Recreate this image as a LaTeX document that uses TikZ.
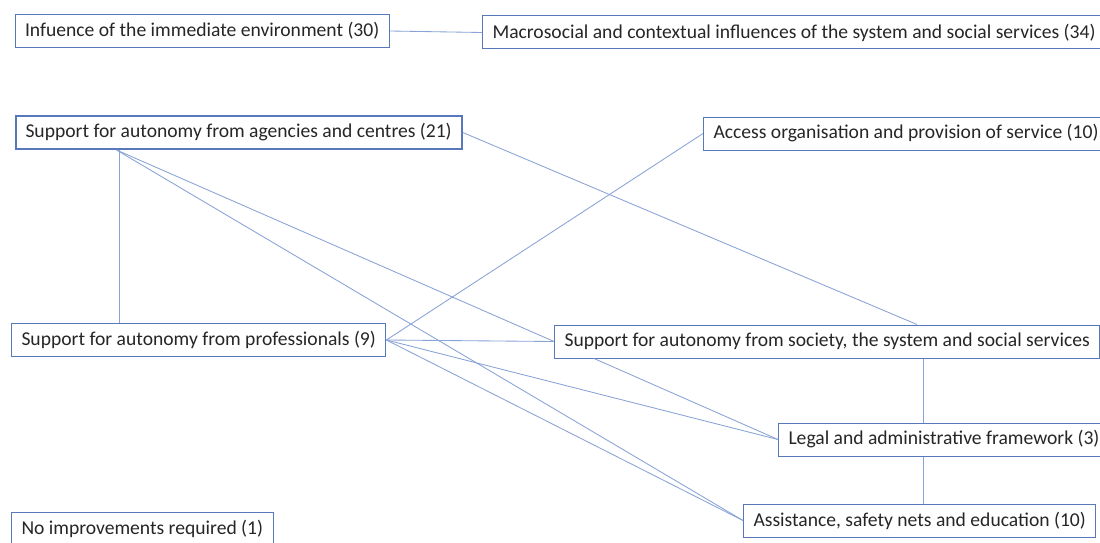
\documentclass[tikz,border=0pt]{standalone}
\usepackage{fontspec}
\setmainfont{Carlito}
\definecolor{boxblue}{RGB}{88,120,188}
\definecolor{lineblue}{RGB}{136,163,215}
\newcommand{\overedge}{\hspace{20pt}}
\tikzset{
  cat/.style={draw=boxblue, line width=1pt, fill=white, anchor=west, minimum height=33pt,
    inner xsep=10pt, inner ysep=0pt, font=\fontsize{19.6}{23}\selectfont, text=black!85},
  catthick/.style={cat, line width=2pt},
  link/.style={draw=lineblue, line width=0.85pt}
}
\begin{document}
\begin{tikzpicture}[x=1pt,y=-1pt]
\useasboundingbox (0,0) rectangle (1100,543);
\fill[white] (0,0) rectangle (1100,543);
\clip (0,0) rectangle (1100,543);
% nodes
\node[cat] (inf) at (14.5,31) {Infuence of the immediate environment (30)};
\node[cat] (mac) at (482,32.5) {Macrosocial and contextual influences of the system and social services (34)\overedge};
\node[catthick] (agc) at (14.5,132.5) {Support for autonomy from agencies and centres (21)};
\node[cat] (acc) at (703,133.5) {Access organisation and provision of service (10)\overedge};
\node[cat] (pro) at (11,340) {Support for autonomy from professionals (9)};
\node[cat] (soc) at (554,341.5) {Support for autonomy from society, the system and social services\overedge};
\node[cat] (leg) at (778,439.5) {Legal and administrative framework (3)\overedge};
\node[cat] (ass) at (743,520.5) {Assistance, safety nets and education (10)\overedge};
\node[cat] (noi) at (11,528.5) {No improvements required (1)};
% connectors
\draw[link] (inf.east) -- (mac.west);
\coordinate (agcb) at ([xshift=105pt]agc.south west);
\draw[link] (agcb) -- (agcb |- pro.north);
\draw[link] ([xshift=102pt]agc.south west) -- (soc.west);
\draw[link] ([xshift=102pt]agc.south west) -- (ass.west);
\draw[link] (agc.east) -- ([xshift=363pt]soc.north west);
\draw[link] (acc.west) -- (pro.east);
\draw[link] (pro.east) -- (soc.west);
\draw[link] (pro.east) -- (leg.west);
\draw[link] (pro.east) -- (ass.west);
\draw[link] ([xshift=40pt]soc.south west) -- (leg.west);
\coordinate (socb) at ([xshift=369pt]soc.south west);
\draw[link] (socb) -- (socb |- leg.north);
\coordinate (legb) at ([xshift=145pt]leg.south west);
\draw[link] (legb) -- (legb |- ass.north);
\end{tikzpicture}
\end{document}
